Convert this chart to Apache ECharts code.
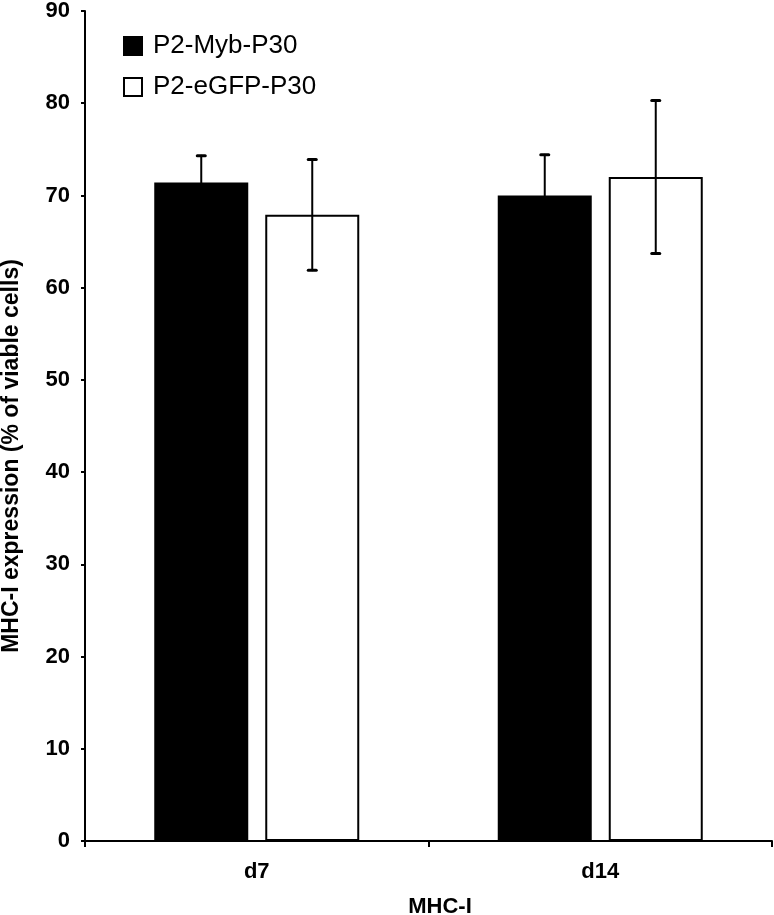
<!DOCTYPE html>
<html>
<head>
<meta charset="utf-8">
<script src="https://cdn.jsdelivr.net/npm/echarts@6/dist/echarts.min.js"></script>
<style>
html,body{margin:0;padding:0;background:#fff;}
#chart{width:774px;height:915px;}
</style>
</head>
<body>
<div id="chart"></div>
<script>
var categories = ['d7', 'd14'];
var seriesNames = ['P2-Myb-P30', 'P2-eGFP-P30'];
var mybValues = [71.4, 70.0];
var mybErrors = [2.9, 4.4];
var gfpValues = [67.9, 72.0];
var gfpErrors = [6.0, 8.3];
var yTicks = [0, 10, 20, 30, 40, 50, 60, 70, 80, 90];
var yTitle = 'MHC-I expression (% of viable cells)';
var xTitle = 'MHC-I';

var FONT = '"Liberation Sans", Arial, sans-serif';
var BAR_W = 94;
var BAR_GAP_PX = 17;
var OFFSET = (BAR_W + BAR_GAP_PX) / 2;

function errSeries(values, errors, dir) {
  return {
    type: 'custom',
    z: 10,
    silent: true,
    data: values.map(function (v, i) { return [i, v - errors[i], v + errors[i]]; }),
    encode: { x: 0, y: [1, 2] },
    renderItem: function (params, api) {
      var lo = api.coord([api.value(0), api.value(1)]);
      var hi = api.coord([api.value(0), api.value(2)]);
      var x = lo[0] + dir * OFFSET;
      var cap = 4;
      var st = { stroke: '#000', lineWidth: 2, lineCap: 'round' };
      return {
        type: 'group',
        children: [
          { type: 'line', shape: { x1: x, y1: lo[1], x2: x, y2: hi[1] }, style: st },
          { type: 'line', shape: { x1: x - cap, y1: hi[1], x2: x + cap, y2: hi[1] }, style: { stroke: '#000', lineWidth: 3, lineCap: 'round' } },
          { type: 'line', shape: { x1: x - cap, y1: lo[1], x2: x + cap, y2: lo[1] }, style: { stroke: '#000', lineWidth: 3, lineCap: 'round' } }
        ]
      };
    }
  };
}

var chart = echarts.init(document.getElementById('chart'), null, { renderer: 'canvas' });
chart.setOption({
  animation: false,
  backgroundColor: '#fff',
  grid: { left: 85, right: 2, top: 7, bottom: 74, containLabel: false },
  legend: {
    orient: 'vertical',
    left: 118,
    top: 28,
    itemWidth: 18,
    itemHeight: 18,
    itemGap: 15,
    icon: 'rect',
    data: seriesNames,
    textStyle: { fontFamily: FONT, fontSize: 26, color: '#000', padding: [0, 0, 0, 6] }
  },
  xAxis: {
    type: 'category',
    data: categories,
    axisLine: { lineStyle: { color: '#000', width: 2 } },
    axisTick: { show: true, length: 6, lineStyle: { color: '#000', width: 2 } },
    axisLabel: { fontFamily: FONT, fontSize: 22, fontWeight: 'bold', color: '#000', margin: 20 },
    splitLine: { show: false }
  },
  yAxis: {
    type: 'value',
    min: yTicks[0],
    max: yTicks[yTicks.length - 1],
    interval: yTicks[1] - yTicks[0],
    axisLine: { show: true, lineStyle: { color: '#000', width: 2 } },
    axisTick: { show: true, length: 4, lineStyle: { color: '#000', width: 2 } },
    axisLabel: { fontFamily: FONT, fontSize: 22, fontWeight: 'bold', color: '#000', margin: 15 },
    splitLine: { show: false }
  },
  graphic: [{
    type: 'text',
    x: 12,
    y: 456,
    rotation: Math.PI / 2,
    style: {
      text: yTitle,
      fontFamily: FONT,
      fontSize: 23,
      fontWeight: 'bold',
      fill: '#000',
      align: 'center',
      verticalAlign: 'middle'
    }
  }, {
    type: 'text',
    x: 440,
    y: 907,
    style: {
      text: xTitle,
      fontFamily: FONT,
      fontSize: 22,
      fontWeight: 'bold',
      fill: '#000',
      align: 'center',
      verticalAlign: 'middle'
    }
  }],
  series: [
    {
      name: seriesNames[0],
      type: 'bar',
      data: mybValues,
      barWidth: BAR_W,
      barGap: (BAR_GAP_PX / BAR_W * 100) + '%',
      itemStyle: { color: '#000', borderColor: '#000', borderWidth: 2 }
    },
    {
      name: seriesNames[1],
      type: 'bar',
      data: gfpValues,
      barWidth: BAR_W,
      itemStyle: { color: '#fff', borderColor: '#000', borderWidth: 2 }
    },
    errSeries(mybValues, mybErrors, -1),
    errSeries(gfpValues, gfpErrors, 1)
  ]
});
</script>
</body>
</html>
